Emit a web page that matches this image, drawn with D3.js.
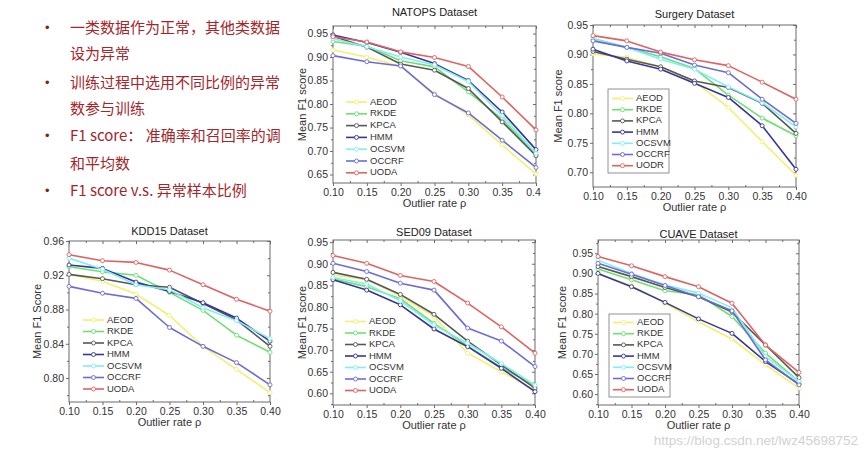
<!DOCTYPE html>
<html><head><meta charset="utf-8">
<script src="https://cdn.jsdelivr.net/npm/d3@7/dist/d3.min.js"></script>
<style>body{margin:0;background:#fff}svg{display:block}</style>
</head><body><svg id="c" width="868" height="455"></svg>
<script>
// ---------- data ----------
const outlierRates = [0.10, 0.15, 0.20, 0.25, 0.30, 0.35, 0.40];
const methods = ["AEOD", "RKDE", "KPCA", "HMM", "OCSVM", "OCCRF", "UODA"];
const methodsSurgery = ["AEOD", "RKDE", "KPCA", "HMM", "OCSVM", "OCCRF", "UODR"];
const methodColors = ["#f3ef72", "#6fe070", "#575757", "#35359a", "#80eef2", "#6c6cd6", "#e06262"];

// rows follow the method order: AEOD, RKDE, KPCA, HMM, OCSVM, OCCRF, UODA
const natopsValues = [
  [0.915, 0.900, 0.880, 0.822, 0.777, 0.713, 0.651],
  [0.933, 0.923, 0.892, 0.879, 0.826, 0.768, 0.692],
  [0.944, 0.921, 0.885, 0.872, 0.833, 0.762, 0.690],
  [0.947, 0.931, 0.910, 0.886, 0.850, 0.783, 0.703],
  [0.939, 0.922, 0.900, 0.883, 0.848, 0.775, 0.695],
  [0.903, 0.890, 0.881, 0.820, 0.781, 0.723, 0.665],
  [0.943, 0.932, 0.911, 0.899, 0.880, 0.815, 0.745]
];
const surgeryValues = [
  [0.901, 0.895, 0.879, 0.854, 0.810, 0.752, 0.695],
  [0.927, 0.912, 0.896, 0.876, 0.831, 0.792, 0.762],
  [0.905, 0.892, 0.879, 0.855, 0.844, 0.817, 0.766],
  [0.909, 0.889, 0.875, 0.851, 0.827, 0.779, 0.705],
  [0.926, 0.912, 0.892, 0.875, 0.845, 0.818, 0.777],
  [0.923, 0.912, 0.902, 0.882, 0.869, 0.824, 0.783],
  [0.932, 0.923, 0.904, 0.891, 0.881, 0.853, 0.824]
];
const kddValues = [
  [0.921, 0.913, 0.898, 0.873, 0.837, 0.810, 0.783],
  [0.930, 0.924, 0.920, 0.900, 0.879, 0.850, 0.830],
  [0.921, 0.916, 0.909, 0.906, 0.887, 0.868, 0.837],
  [0.932, 0.928, 0.912, 0.901, 0.888, 0.870, 0.843],
  [0.940, 0.927, 0.909, 0.903, 0.882, 0.867, 0.846],
  [0.907, 0.899, 0.893, 0.859, 0.837, 0.818, 0.792],
  [0.944, 0.937, 0.935, 0.926, 0.909, 0.892, 0.878]
];
const sedValues = [
  [0.874, 0.863, 0.826, 0.778, 0.693, 0.650, 0.608],
  [0.865, 0.847, 0.819, 0.762, 0.710, 0.660, 0.618],
  [0.880, 0.864, 0.829, 0.783, 0.721, 0.666, 0.612],
  [0.863, 0.839, 0.805, 0.749, 0.708, 0.658, 0.604],
  [0.868, 0.853, 0.814, 0.758, 0.716, 0.669, 0.619],
  [0.901, 0.882, 0.855, 0.839, 0.751, 0.721, 0.662],
  [0.919, 0.901, 0.873, 0.859, 0.809, 0.754, 0.693]
];
const cuaveValues = [
  [0.898, 0.870, 0.826, 0.780, 0.737, 0.673, 0.615],
  [0.911, 0.884, 0.857, 0.847, 0.793, 0.702, 0.631],
  [0.917, 0.892, 0.865, 0.842, 0.804, 0.722, 0.641],
  [0.900, 0.867, 0.828, 0.787, 0.751, 0.681, 0.625],
  [0.933, 0.900, 0.871, 0.851, 0.815, 0.693, 0.631],
  [0.925, 0.898, 0.870, 0.842, 0.807, 0.685, 0.623],
  [0.942, 0.919, 0.892, 0.867, 0.826, 0.722, 0.654]
];
const ticks005 = [0.60, 0.65, 0.70, 0.75, 0.80, 0.85, 0.90, 0.95];
const ticksKdd = [0.80, 0.84, 0.88, 0.92, 0.96];

const bulletLines = [
  {bullet: true,  text: "一类数据作为正常，其他类数据"},
  {bullet: false, text: "设为异常"},
  {bullet: true,  text: "训练过程中选用不同比例的异常"},
  {bullet: false, text: "数参与训练"},
  {bullet: true,  text: "F1 score： 准确率和召回率的调"},
  {bullet: false, text: "和平均数"},
  {bullet: true,  text: "F1 score v.s. 异常样本比例"}
];

// ---------- layout ----------
const charts = [
  {title: "NATOPS Dataset", values: natopsValues, names: methods, yLabel: "Mean F1 score",
   L: 333, R: 536, T: 26, B: 183, yDom: [0.632, 0.966], yTicks: ticks005.slice(1), yFmt: ".2f",
   titleY: 13, yTitleX: 303, legX: 346, legY: 102, legDy: 11.8, legBox: false, clipR: 541},
  {title: "Surgery Dataset", values: surgeryValues, names: methodsSurgery, yLabel: "Mean F1 score",
   L: 593, R: 796, T: 25, B: 187, yDom: [0.675, 0.95], yTicks: ticks005.slice(2), yFmt: ".2f",
   titleY: 15, yTitleX: 559, legX: 612, legY: 98.5, legDy: 11.2, legBox: [608, 89, 669, 173]},
  {title: "KDD15 Dataset", values: kddValues, names: methods, yLabel: "Mean F1 Score",
   L: 69, R: 270, T: 241, B: 402, yDom: [0.772, 0.96], yTicks: ticksKdd, yFmt: ".2f",
   titleY: 232, yTitleX: 38, legX: 83, legY: 320, legDy: 11.5, legBox: false},
  {title: "SED09 Dataset", values: sedValues, names: methods, yLabel: "Mean F1 score",
   L: 333, R: 535, T: 240, B: 405, yDom: [0.573, 0.955], yTicks: ticks005, yFmt: ".2f",
   titleY: 233, yTitleX: 303, legX: 345, legY: 321.5, legDy: 11.5, legBox: false},
  {title: "CUAVE Dataset", values: cuaveValues, names: methods, yLabel: "Mean F1 score",
   L: 598, R: 799, T: 240, B: 405, yDom: [0.573, 0.983], yTicks: ticks005, yFmt: ".2f",
   titleY: 235, yTitleX: 563, legX: 613, legY: 322.5, legDy: 11.2, legBox: [609, 314, 670, 397]}
];

const svg = d3.select("#c");
const FONT = "'Liberation Sans', Arial, sans-serif";

// left bullet text
const textColor = "#a3262b";
bulletLines.forEach((ln, i) => {
  const y = [27, 53.5, 82, 108.5, 135, 163.5, 190][i];
  if (ln.bullet) svg.append("text").attr("x", 45).attr("y", y + 5).attr("fill", "#8a1c22")
    .attr("font-family", FONT).attr("font-size", 13).text("•");
  svg.append("text").attr("x", 70).attr("y", y + 5.5).attr("fill", textColor)
    .attr("font-family", "'Noto Sans CJK SC', 'Noto Sans', sans-serif").attr("font-size", 15)
    .text(ln.text);
});

charts.forEach((c, ci) => {
  const g = svg.append("g");
  if (c.clipR) {
    svg.append("clipPath").attr("id", "clip" + ci).append("rect")
      .attr("x", 0).attr("y", 0).attr("width", c.clipR).attr("height", 455);
    g.attr("clip-path", `url(#clip${ci})`);
  }
  const x = d3.scaleLinear().domain([0.10, 0.40]).range([c.L, c.R]);
  const y = d3.scaleLinear().domain(c.yDom).range([c.B, c.T]);
  const axisColor = "#6b6b6b";

  // minor tick values
  const xMinor = d3.range(0, outlierRates.length - 1).map(i => (outlierRates[i] + outlierRates[i + 1]) / 2);
  const yStep = c.yTicks[1] - c.yTicks[0];
  const yMinor = [];
  for (let v = c.yTicks[0] - yStep / 2; v < c.yDom[1]; v += yStep) if (v > c.yDom[0]) yMinor.push(v);

  // axes
  const styleAxis = sel => {
    sel.select(".domain").remove();
    sel.selectAll("line").attr("stroke", axisColor);
    sel.selectAll("text").attr("font-family", FONT).attr("font-size", 10.5).attr("fill", "#333");
  };
  g.append("g").attr("transform", `translate(0,${c.B})`)
    .call(d3.axisBottom(x).tickValues(outlierRates).tickFormat(d3.format(".2f")).tickSize(3).tickPadding(3))
    .call(styleAxis);
  g.append("g").attr("transform", `translate(0,${c.B})`)
    .call(d3.axisBottom(x).tickValues(xMinor).tickFormat("").tickSize(-2)).call(styleAxis);
  g.append("g").attr("transform", `translate(0,${c.T})`)
    .call(d3.axisTop(x).tickValues(outlierRates).tickFormat("").tickSize(-3)).call(styleAxis);
  g.append("g").attr("transform", `translate(0,${c.T})`)
    .call(d3.axisTop(x).tickValues(xMinor).tickFormat("").tickSize(-2)).call(styleAxis);
  g.append("g").attr("transform", `translate(${c.L},0)`)
    .call(d3.axisLeft(y).tickValues(c.yTicks).tickFormat(d3.format(c.yFmt)).tickSize(3).tickPadding(2))
    .call(styleAxis);
  g.append("g").attr("transform", `translate(${c.L},0)`)
    .call(d3.axisLeft(y).tickValues(yMinor).tickFormat("").tickSize(2)).call(styleAxis);
  g.append("g").attr("transform", `translate(${c.R},0)`)
    .call(d3.axisRight(y).tickValues(c.yTicks).tickFormat("").tickSize(-3)).call(styleAxis);
  g.append("g").attr("transform", `translate(${c.R},0)`)
    .call(d3.axisRight(y).tickValues(yMinor).tickFormat("").tickSize(-2)).call(styleAxis);

  // frame
  g.append("rect").attr("x", c.L).attr("y", c.T).attr("width", c.R - c.L).attr("height", c.B - c.T)
    .attr("fill", "none").attr("stroke", axisColor).attr("stroke-width", 1);

  // series
  const line = d3.line().x((d, i) => x(outlierRates[i])).y(d => y(d));
  c.values.forEach((vals, si) => {
    const col = methodColors[si];
    g.append("path").datum(vals).attr("d", line).attr("fill", "none")
      .attr("stroke", col).attr("stroke-width", 1.6).attr("stroke-linejoin", "round");
    g.selectAll(null).data(vals).join("circle")
      .attr("cx", (d, i) => x(outlierRates[i])).attr("cy", d => y(d)).attr("r", 2)
      .attr("fill", "#fff").attr("stroke", col).attr("stroke-width", 0.9);
  });

  // titles
  g.append("text").attr("x", (c.L + c.R) / 2).attr("y", c.titleY).attr("text-anchor", "middle")
    .attr("dominant-baseline", "middle").attr("font-family", FONT).attr("font-size", 11).attr("fill", "#222")
    .text(c.title);
  g.append("text").attr("x", (c.L + c.R) / 2).attr("y", c.B + 21.5).attr("text-anchor", "middle")
    .attr("dominant-baseline", "middle").attr("font-family", FONT).attr("font-size", 11).attr("fill", "#333")
    .text("Outlier rate ρ");
  g.append("text").attr("transform", `translate(${c.yTitleX},${(c.T + c.B) / 2}) rotate(-90)`)
    .attr("text-anchor", "middle").attr("dominant-baseline", "middle")
    .attr("font-family", FONT).attr("font-size", 11).attr("fill", "#333").text(c.yLabel);

  // legend
  if (c.legBox) {
    g.append("rect").attr("x", c.legBox[0]).attr("y", c.legBox[1])
      .attr("width", c.legBox[2] - c.legBox[0]).attr("height", c.legBox[3] - c.legBox[1])
      .attr("fill", "#fff").attr("stroke", "#777").attr("stroke-width", 0.8);
  }
  c.names.forEach((nm, si) => {
    const ly = c.legY + si * c.legDy;
    const col = methodColors[si];
    g.append("line").attr("x1", c.legX).attr("x2", c.legX + 21).attr("y1", ly).attr("y2", ly)
      .attr("stroke", col).attr("stroke-width", 1.6);
    g.append("circle").attr("cx", c.legX + 10.5).attr("cy", ly).attr("r", 2)
      .attr("fill", "#fff").attr("stroke", col).attr("stroke-width", 0.9);
    g.append("text").attr("x", c.legX + 24).attr("y", ly).attr("dominant-baseline", "middle")
      .attr("font-family", FONT).attr("font-size", 9.5).attr("fill", "#333").text(nm);
  });
});

// watermark
svg.append("text").attr("x", 858).attr("y", 441).attr("text-anchor", "end").attr("dominant-baseline", "middle")
  .attr("font-family", FONT).attr("font-size", 13.5).attr("fill", "#d2d2d2")
  .text("https://blog.csdn.net/lwz45698752");
</script></body></html>
